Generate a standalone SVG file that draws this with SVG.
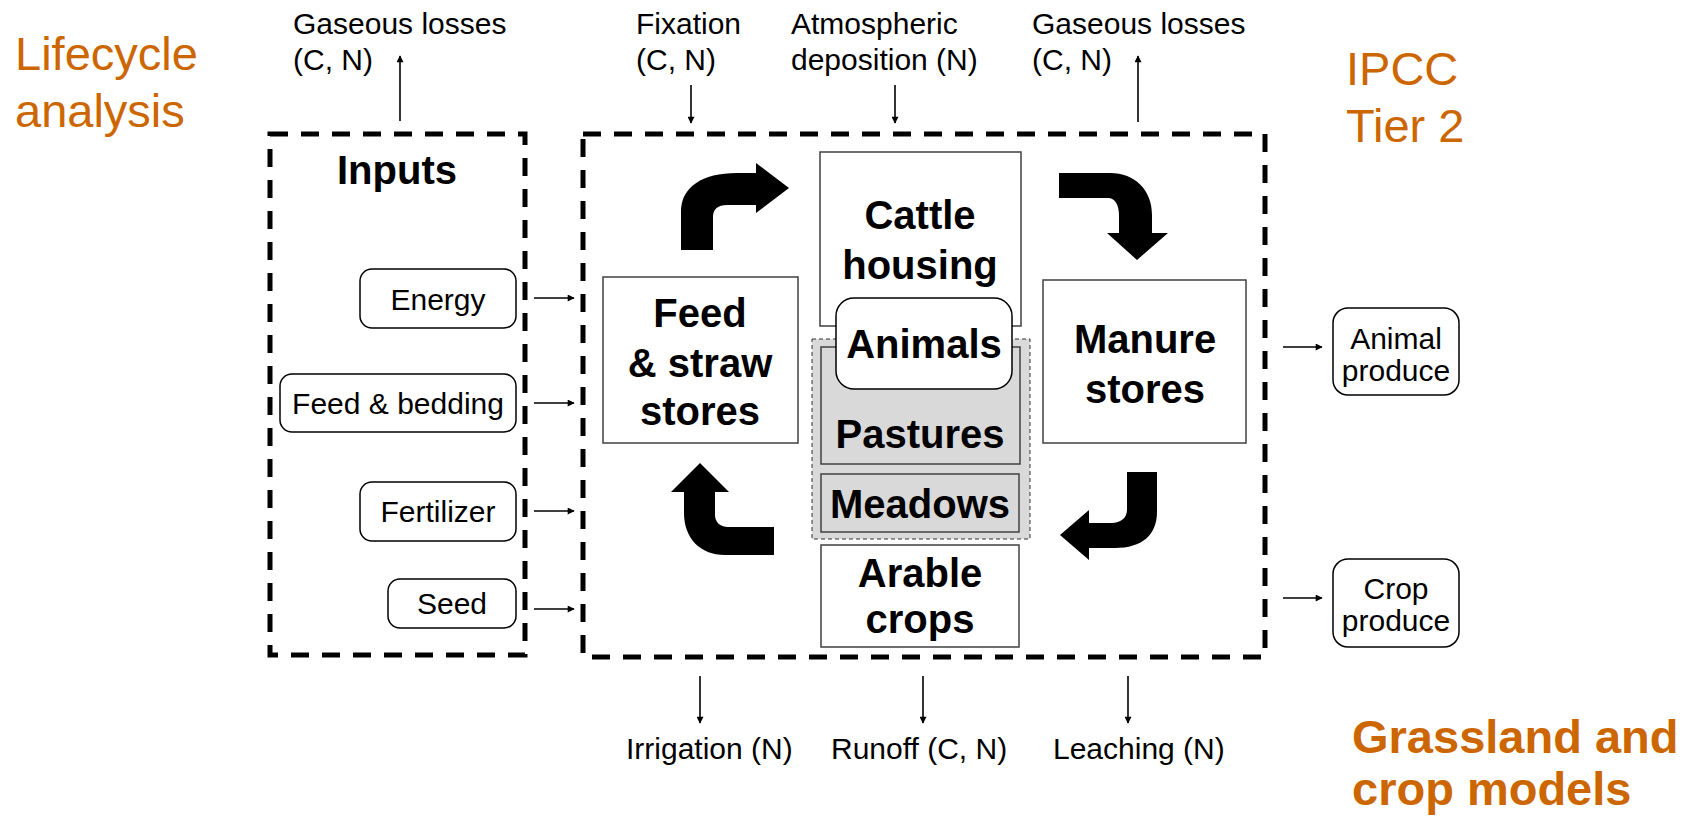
<svg xmlns="http://www.w3.org/2000/svg" width="1698" height="816" viewBox="0 0 1698 816">
<defs>
<style>
text{font-family:"Liberation Sans",Arial,sans-serif;fill:#000}
.s{font-size:30px}
.b{font-size:40px;font-weight:bold;text-anchor:middle}
.c{text-anchor:middle}
.o{font-size:47px;fill:#CC6600}
.ob{font-size:47px;fill:#CC6600;font-weight:bold}
.dash{fill:none;stroke:#000;stroke-width:5;stroke-dasharray:18 13}
.box{fill:#fff;stroke:#404040;stroke-width:1.5}
.rbox{fill:#fff;stroke:#000;stroke-width:1.5}
.grey{fill:#d9d9d9;stroke:#404040;stroke-width:1.5}
.ln{stroke:#000;stroke-width:1.6;fill:none;marker-end:url(#ah)}
.big{fill:#000}
</style>
<marker id="ah" viewBox="0 0 10 10" refX="9" refY="5" markerWidth="8" markerHeight="7" markerUnits="userSpaceOnUse" orient="auto">
<path d="M0,0 L10,5 L0,10 Z" fill="#000"/>
</marker>
</defs>
<rect width="1698" height="816" fill="#fff"/>

<g id="titles">
<text class="o" x="15" y="70">Lifecycle</text>
<text class="o" x="15" y="127">analysis</text>
<text class="o" x="1346" y="85">IPCC</text>
<text class="o" x="1346" y="142">Tier 2</text>
<text class="ob" x="1352" y="753">Grassland and</text>
<text class="ob" x="1352" y="805">crop models</text>
</g>

<g id="flow-labels">
<text class="s" x="293" y="34">Gaseous losses</text>
<text class="s" x="293" y="70">(C, N)</text>
<text class="s" x="636" y="34">Fixation</text>
<text class="s" x="636" y="70">(C, N)</text>
<text class="s" x="791" y="34">Atmospheric</text>
<text class="s" x="791" y="70">deposition (N)</text>
<text class="s" x="1032" y="34">Gaseous losses</text>
<text class="s" x="1032" y="70">(C, N)</text>
<text class="s" x="626" y="759">Irrigation (N)</text>
<text class="s" x="831" y="759">Runoff (C, N)</text>
<text class="s" x="1053" y="759">Leaching (N)</text>
</g>

<g id="inputs">
<rect class="dash" x="270" y="134" width="255" height="521"/>
<text class="b" x="397" y="184">Inputs</text>
</g>
<g id="energy"><rect class="rbox" x="360" y="269" width="156" height="59" rx="12"/><text class="s c" x="438" y="310">Energy</text></g>
<g id="feed-bedding"><rect class="rbox" x="280" y="374" width="236" height="58" rx="12"/><text class="s c" x="398" y="414">Feed &amp; bedding</text></g>
<g id="fertilizer"><rect class="rbox" x="360" y="482" width="156" height="59" rx="12"/><text class="s c" x="438" y="522">Fertilizer</text></g>
<g id="seed"><rect class="rbox" x="388" y="579" width="128" height="49" rx="12"/><text class="s c" x="452" y="614">Seed</text></g>

<g id="farm">
<rect class="dash" x="583" y="134" width="682" height="523"/>
</g>
<g id="feed-straw"><rect class="box" x="603" y="277" width="195" height="166"/>
<text class="b" x="700" y="327">Feed</text><text class="b" x="700" y="377">&amp; straw</text><text class="b" x="700" y="425">stores</text></g>
<g id="cattle-housing"><rect class="box" x="820" y="152" width="201" height="174"/>
<text class="b" x="920" y="229">Cattle</text><text class="b" x="920" y="279">housing</text></g>
<g id="grassland"><rect x="812" y="339" width="218" height="200" fill="#d9d9d9" stroke="#333" stroke-width="1" stroke-dasharray="4 3"/></g>
<g id="pastures"><rect class="grey" x="821" y="347" width="199" height="117"/><text class="b" x="920" y="448">Pastures</text></g>
<g id="meadows"><rect class="grey" x="821" y="474" width="198" height="58"/><text class="b" x="920" y="518">Meadows</text></g>
<g id="animals"><rect class="rbox" x="836" y="298" width="176" height="91" rx="18"/><text class="b" x="924" y="358">Animals</text></g>
<g id="arable"><rect class="box" x="821" y="545" width="198" height="102"/>
<text class="b" x="920" y="587">Arable</text><text class="b" x="920" y="633">crops</text></g>
<g id="manure"><rect class="box" x="1043" y="280" width="203" height="163"/>
<text class="b" x="1145" y="353">Manure</text><text class="b" x="1145" y="403">stores</text></g>
<g id="animal-produce"><rect class="rbox" x="1333" y="308" width="126" height="87" rx="15"/>
<text class="s c" x="1396" y="349">Animal</text><text class="s c" x="1396" y="381">produce</text></g>
<g id="crop-produce"><rect class="rbox" x="1333" y="559" width="126" height="88" rx="15"/>
<text class="s c" x="1396" y="599">Crop</text><text class="s c" x="1396" y="631">produce</text></g>

<g id="connectors">
<line class="ln" x1="400" y1="121" x2="400" y2="56"/>
<line class="ln" x1="691" y1="85" x2="691" y2="123"/>
<line class="ln" x1="895" y1="85" x2="895" y2="123"/>
<line class="ln" x1="1138" y1="122" x2="1138" y2="56"/>
<line class="ln" x1="534" y1="298" x2="574" y2="298"/>
<line class="ln" x1="534" y1="403" x2="574" y2="403"/>
<line class="ln" x1="534" y1="511" x2="574" y2="511"/>
<line class="ln" x1="534" y1="609" x2="574" y2="609"/>
<line class="ln" x1="1283" y1="347" x2="1322" y2="347"/>
<line class="ln" x1="1283" y1="598" x2="1322" y2="598"/>
<line class="ln" x1="700" y1="676" x2="700" y2="723"/>
<line class="ln" x1="923" y1="676" x2="923" y2="723"/>
<line class="ln" x1="1128" y1="676" x2="1128" y2="723"/>
<path class="big" d="M681,250 L681,212 C681,187 702,173 737,173 L756,173 L756,163 L789,188 L756,213 L756,205 L727,205 C718,205 713,209 713,217 L713,250 Z"/>
<path class="big" d="M1059,173 L1110,173 C1135,173 1152,190 1152,215 L1152,233 L1168,233 L1137,260 L1107,233 L1119,233 L1119,215 C1119,205 1115,198 1108,198 L1059,198 Z"/>
<path class="big" d="M1127,472 L1157,472 L1157,512 C1157,535 1142,548 1115,548 L1089,548 L1089,560 L1060,535 L1089,510 L1089,523 L1112,523 C1120,523 1127,518 1127,510 Z"/>
<path class="big" d="M774,527 L728,527 C720,527 715,522 715,515 L715,492 L729,492 L700,463 L671,492 L684,492 L684,513 C684,538 700,555 725,555 L774,555 Z"/>
</g>
</svg>
